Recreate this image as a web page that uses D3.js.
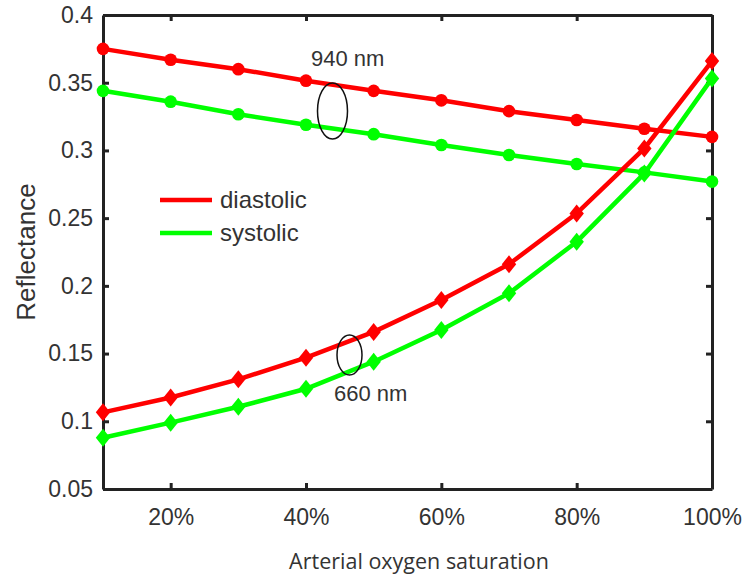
<!DOCTYPE html>
<html>
<head>
<meta charset="utf-8">
<script src="https://cdn.jsdelivr.net/npm/d3@7"></script>
<style>
  body { margin: 0; background: #fff; }
  svg { display: block; }
</style>
</head>
<body>
<svg></svg>
<script>
// chart data
const saturation = [10, 20, 30, 40, 50, 60, 70, 80, 90, 100]
const diastolic940 = [0.375, 0.367, 0.360, 0.3515, 0.344, 0.337, 0.329, 0.3225, 0.316, 0.310]
const systolic940 = [0.344, 0.336, 0.3267, 0.319, 0.312, 0.304, 0.2966, 0.290, 0.2838, 0.277]
const diastolic660 = [0.1066, 0.1176, 0.131, 0.147, 0.166, 0.1895, 0.216, 0.2535, 0.3015, 0.366]
const systolic660 = [0.0878, 0.099, 0.1107, 0.124, 0.144, 0.1674, 0.1945, 0.2326, 0.283, 0.3532]
const xTicks = [20, 40, 60, 80, 100]
const yTicks = [0.05, 0.1, 0.15, 0.2, 0.25, 0.3, 0.35, 0.4]
const legendLabels = ['diastolic', 'systolic']

const width = 747
const height = 577
const plotLeft = 103
const plotRight = 712
const plotTop = 15
const plotBottom = 489
const red = '#ff0000'
const green = '#00ff00'
const textColor = '#333'
const sans = 'Liberation Sans, Arial, sans-serif'

const svg = d3.select('svg')
  .attr('width', width)
  .attr('height', height)

const x = d3.scaleLinear().domain([10, 100]).range([plotLeft, plotRight])
const y = d3.scaleLinear().domain([0.05, 0.4]).range([plotBottom, plotTop])

// axes (ticks pointing inwards, box on all sides)
const axisStyle = (g) => {
  g.select('.domain').attr('stroke', '#222').attr('stroke-width', 3)
  g.selectAll('.tick line').attr('stroke', '#222').attr('stroke-width', 3)
  g.selectAll('.tick text')
    .attr('fill', textColor)
    .style('font-family', sans)
    .style('font-size', '23px')
}

svg.append('g')
  .attr('transform', 'translate(0,' + plotBottom + ')')
  .call(d3.axisBottom(x).tickValues(xTicks).tickSize(-6).tickSizeOuter(0)
    .tickPadding(20).tickFormat((d) => d + '%'))
  .call(axisStyle)

svg.append('g')
  .attr('transform', 'translate(0,' + plotTop + ')')
  .call(d3.axisTop(x).tickValues(xTicks).tickSize(-6).tickSizeOuter(0).tickFormat(''))
  .call(axisStyle)

svg.append('g')
  .attr('transform', 'translate(' + plotLeft + ',0)')
  .call(d3.axisLeft(y).tickValues(yTicks).tickSize(-6).tickSizeOuter(0)
    .tickPadding(10).tickFormat(d3.format('.2~f')))
  .call(axisStyle)

svg.append('g')
  .attr('transform', 'translate(' + plotRight + ',0)')
  .call(d3.axisRight(y).tickValues(yTicks).tickSize(-6).tickSizeOuter(0).tickFormat(''))
  .call(axisStyle)

// MATLAB-like diamond, a bit taller than wide
const diamond = {
  draw (ctx, size) {
    const w = Math.sqrt(size) * 0.6
    const h = w * 1.25
    ctx.moveTo(0, -h)
    ctx.lineTo(w, 0)
    ctx.lineTo(0, h)
    ctx.lineTo(-w, 0)
    ctx.closePath()
  }
}

// series
const series = [
  { values: diastolic940, color: red, marker: 'circle' },
  { values: systolic940, color: green, marker: 'circle' },
  { values: diastolic660, color: red, marker: 'diamond' },
  { values: systolic660, color: green, marker: 'diamond' }
]

const line = d3.line()
  .x((d, i) => x(saturation[i]))
  .y((d) => y(d))

series.forEach((s) => {
  svg.append('path')
    .datum(s.values)
    .attr('fill', 'none')
    .attr('stroke', s.color)
    .attr('stroke-width', 4.5)
    .attr('d', line)

  const sym = d3.symbol()
    .type(s.marker === 'circle' ? d3.symbolCircle : diamond)
    .size(s.marker === 'circle' ? 125 : 144)

  svg.selectAll(null)
    .data(s.values)
    .enter()
    .append('path')
    .attr('d', sym)
    .attr('transform', (d, i) => 'translate(' + x(saturation[i]) + ',' + y(d) + ')')
    .attr('fill', s.color)
})

// legend
const legend = svg.append('g')
legendLabels.forEach((label, i) => {
  const ly = 200 + i * 33
  legend.append('line')
    .attr('x1', 160).attr('x2', 212)
    .attr('y1', ly).attr('y2', ly)
    .attr('stroke', i === 0 ? red : green)
    .attr('stroke-width', 4.5)
  legend.append('text')
    .attr('x', 220).attr('y', ly + 8)
    .attr('fill', textColor)
    .style('font-family', sans)
    .style('font-size', '24px')
    .text(label)
})

// wavelength annotations
svg.append('ellipse')
  .attr('cx', 332.5).attr('cy', 111).attr('rx', 15).attr('ry', 28)
  .attr('fill', 'none').attr('stroke', '#111').attr('stroke-width', 1.5)
svg.append('text')
  .attr('x', 311).attr('y', 66)
  .attr('fill', textColor)
  .style('font-family', sans)
  .style('font-size', '22px')
  .text('940 nm')

svg.append('ellipse')
  .attr('cx', 349.5).attr('cy', 355).attr('rx', 12.5).attr('ry', 20)
  .attr('fill', 'none').attr('stroke', '#111').attr('stroke-width', 1.5)
svg.append('text')
  .attr('x', 334).attr('y', 401)
  .attr('fill', textColor)
  .style('font-family', sans)
  .style('font-size', '22px')
  .text('660 nm')

// axis titles
svg.append('text')
  .attr('transform', 'translate(35,252) rotate(-90)')
  .attr('text-anchor', 'middle')
  .attr('fill', textColor)
  .style('font-family', sans)
  .style('font-size', '26px')
  .text('Reflectance')

svg.append('text')
  .attr('x', 419).attr('y', 569)
  .attr('text-anchor', 'middle')
  .attr('fill', textColor)
  .style('font-family', 'Open Sans, sans-serif')
  .style('font-size', '21.5px')
  .text('Arterial oxygen saturation')
</script>
</body>
</html>
